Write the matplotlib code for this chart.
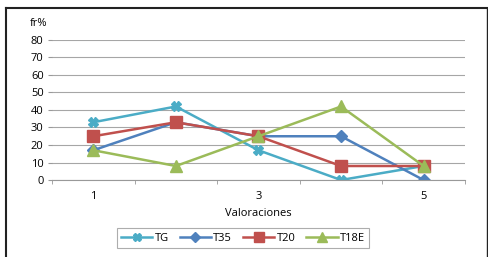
import matplotlib.pyplot as plt
from matplotlib.lines import Line2D

valoraciones = [1, 2, 3, 4, 5]
tick_labels = ["1", "", "3", "", "5"]
series_names = ["TG", "T35", "T20", "T18E"]
tg = [33, 42, 17, 0, 8]
t35 = [17, 33, 25, 25, 0]
t20 = [25, 33, 25, 8, 8]
t18e = [17, 8, 25, 42, 8]

colors = ["#4BACC6", "#4F81BD", "#C0504D", "#9BBB59"]
markers = ["X", "D", "s", "^"]
msizes = [7, 6, 8, 8]

plt.rcParams['font.family'] = ['Open Sans', 'DejaVu Sans']

fig = plt.figure(figsize=(4.88, 2.57), dpi=100)
ax = fig.add_axes([0.1066, 0.2996, 0.846, 0.5448])

for name, vals, c, m, ms in zip(series_names, [tg, t35, t20, t18e], colors, markers, msizes):
    ax.plot(valoraciones, vals, color=c, linewidth=1.8, marker=m, markersize=ms,
            markeredgecolor=c, markerfacecolor=c, label=name)

ax.set_xlim(0.5, 5.5)
ax.set_ylim(0, 80)
ax.set_yticks(range(0, 81, 10))
ax.set_xticks(valoraciones)
ax.set_xticklabels(tick_labels)
ax.set_xticks([0.5, 1.5, 2.5, 3.5, 4.5, 5.5], minor=True)
ax.tick_params(axis='x', which='major', length=0, labelsize=8, pad=8)
ax.tick_params(axis='x', which='minor', length=3, color="#999999", direction='out')
ax.tick_params(axis='y', length=3, color="#999999", labelsize=8, pad=3)
ax.grid(axis='y', color="#a6a6a6", linewidth=0.8)
ax.set_axisbelow(True)
for s in ['top', 'right', 'left']:
    ax.spines[s].set_visible(False)
ax.spines['bottom'].set_color("#999999")

ax.set_xlabel("Valoraciones", fontsize=8, labelpad=4)
fig.text(0.062, 0.91, "fr%", fontsize=8, ha='left', va='center')

handles = [Line2D([0], [0], color=c, marker=m, markersize=ms - 1, linewidth=1.8,
                  markeredgecolor=c, markerfacecolor=c)
           for c, m, ms in zip(colors, markers, msizes)]
leg = fig.legend(handles, series_names, loc='center', bbox_to_anchor=(0.498, 0.073),
                 ncol=4, fontsize=8, frameon=True, fancybox=False, handlelength=2.8,
                 columnspacing=1.0, handletextpad=0.2, borderpad=0.4)
leg.get_frame().set_edgecolor("#999999")
leg.get_frame().set_linewidth(0.8)

# outer frame (left, top, right)
fig.add_artist(Line2D([0.012, 0.012], [0, 0.969], color="#222222", linewidth=1.5, transform=fig.transFigure))
fig.add_artist(Line2D([0.012, 0.997], [0.969, 0.969], color="#222222", linewidth=1.5, transform=fig.transFigure))
fig.add_artist(Line2D([0.997, 0.997], [0, 0.969], color="#222222", linewidth=1.0, transform=fig.transFigure))

fig.savefig("out.png", dpi=100)
